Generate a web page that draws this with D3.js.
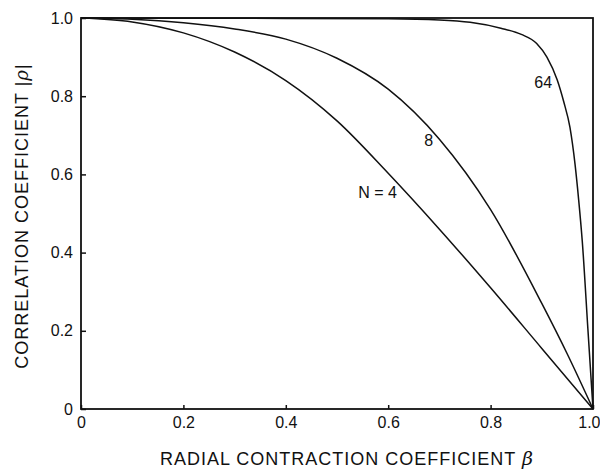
<!DOCTYPE html>
<html>
<head>
<meta charset="utf-8">
<script src="https://cdn.jsdelivr.net/npm/d3@7"></script>
<style>
  body { margin: 0; background: #fff; }
  svg text { font-family: "Liberation Sans", Arial, Helvetica, sans-serif; fill: #111; }
</style>
</head>
<body>
<div id="chart"></div>
<script>
// beta values (x) and |rho| values (y)
const n4 = [
  [0, 1.0], [0.1, 0.99], [0.2, 0.962], [0.3, 0.913], [0.4, 0.84],
  [0.5, 0.737], [0.6, 0.603], [0.7, 0.46], [0.8, 0.31], [0.9, 0.155], [1.0, 0]
];
const n8 = [
  [0, 1.0], [0.1, 0.997], [0.2, 0.988], [0.3, 0.972], [0.4, 0.946],
  [0.5, 0.897], [0.6, 0.818], [0.7, 0.69], [0.8, 0.51], [0.9, 0.27],
  [0.95, 0.14], [1.0, 0]
];
const n64 = [
  [0, 1.0], [0.4, 0.999], [0.6, 0.998], [0.7, 0.995], [0.76, 0.989],
  [0.82, 0.974], [0.86, 0.958], [0.89, 0.935], [0.91, 0.9], [0.93, 0.842],
  [0.943, 0.785], [0.955, 0.72], [0.965, 0.625], [0.972, 0.535], [0.979, 0.43],
  [0.99, 0.205], [1.0, 0]
];
const curveNames = ["N = 4", "8", "64"];
const xTicks = [0, 0.2, 0.4, 0.6, 0.8, 1.0];
const yTicks = [0, 0.2, 0.4, 0.6, 0.8, 1.0];

const W = 600, H = 471;
const margin = {top: 18, right: 7, bottom: 62, left: 81};
const width = W - margin.left - margin.right,
      height = H - margin.top - margin.bottom;

const svg = d3.select("#chart").append("svg")
  .attr("width", W).attr("height", H);
const g = svg.append("g")
  .attr("transform", `translate(${margin.left},${margin.top})`);

const x = d3.scaleLinear().domain([0, 1]).range([0, width]);
const y = d3.scaleLinear().domain([0, 1]).range([height, 0]);

// frame
g.append("rect")
  .attr("width", width).attr("height", height)
  .attr("fill", "none").attr("stroke", "#111").attr("stroke-width", 1.8);

const fmt = d => d === 0 ? "0" : d3.format(".1f")(d);

// axes, ticks pointing inward
const xAxis = g.append("g")
  .attr("transform", `translate(0,${height})`)
  .call(d3.axisBottom(x).tickValues(xTicks).tickFormat(fmt)
    .tickSizeInner(-4).tickSizeOuter(0).tickPadding(8));
const yAxis = g.append("g")
  .call(d3.axisLeft(y).tickValues(yTicks).tickFormat(fmt)
    .tickSizeInner(-5).tickSizeOuter(0).tickPadding(8));

[xAxis, yAxis].forEach(a => {
  a.select(".domain").remove();
  a.selectAll(".tick line").attr("stroke", "#111").attr("stroke-width", 1.5);
  a.selectAll(".tick text").style("font-size", "16px").attr("fill", "#111");
});
xAxis.selectAll(".tick text").attr("dy", "0.71em");
// last x label is pulled in so it stays on the page
xAxis.selectAll(".tick").filter(d => d === 1).select("text")
  .attr("text-anchor", "end").attr("x", margin.right);

// curves
const line = d3.line()
  .x(d => x(d[0])).y(d => y(d[1]))
  .curve(d3.curveMonotoneX);

[n4, n8, n64].forEach(s => {
  g.append("path")
    .datum(s)
    .attr("d", line)
    .attr("fill", "none")
    .attr("stroke", "#111")
    .attr("stroke-width", 1.5);
});

// curve labels
const labelPos = [[0.617, 0.54], [0.688, 0.672], [0.92, 0.822]];
curveNames.forEach((name, i) => {
  g.append("text")
    .attr("x", x(labelPos[i][0]))
    .attr("y", y(labelPos[i][1]))
    .attr("text-anchor", "end")
    .style("font-size", "16px")
    .text(name);
});

// axis titles
const xt = svg.append("text")
  .attr("x", 347)
  .attr("y", 465)
  .attr("text-anchor", "middle")
  .style("font-size", "18px")
  .style("letter-spacing", "1px");
xt.append("tspan").text("RADIAL CONTRACTION COEFFICIENT ");
xt.append("tspan").style("font-style", "italic")
  .style("font-family", "'DejaVu Serif', serif").style("font-size", "19px").text("β");

const yt = svg.append("text")
  .attr("transform", "translate(28,216) rotate(-90)")
  .attr("text-anchor", "middle")
  .style("font-size", "18px")
  .style("letter-spacing", "1px");
yt.append("tspan").text("CORRELATION COEFFICIENT |");
yt.append("tspan").style("font-style", "italic")
  .style("font-family", "'DejaVu Serif', serif").text("ρ");
yt.append("tspan").text("|");
</script>
</body>
</html>
